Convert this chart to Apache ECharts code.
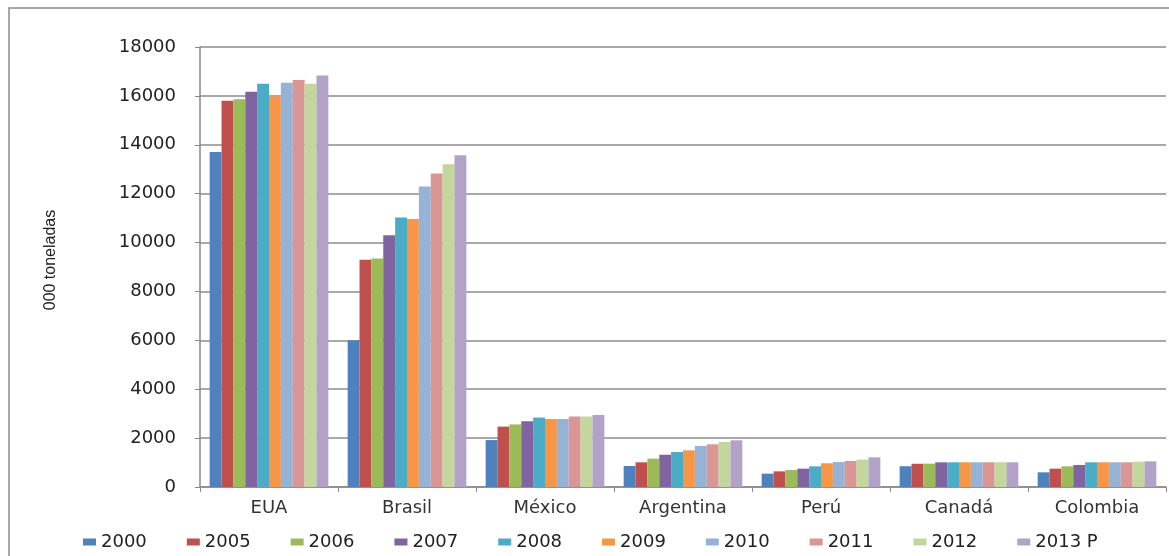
<!DOCTYPE html>
<html>
<head>
<meta charset="utf-8">
<title>Producción 000 toneladas</title>
<script src="https://cdn.jsdelivr.net/npm/echarts@6/dist/echarts.min.js"></script>
<style>
  html, body { margin: 0; padding: 0; background: #fff; }
  #chart { width: 1169px; height: 556px; }
</style>
</head>
<body>
<div id="chart"></div>
<script>
// datos (000 toneladas)
const paises = ['EUA', 'Brasil', 'México', 'Argentina', 'Perú', 'Canadá', 'Colombia']
const anos = ['2000', '2005', '2006', '2007', '2008', '2009', '2010', '2011', '2012', '2013 P']

const v2000 = [13700, 6000, 1920, 860, 545, 850, 600]
const v2005 = [15800, 9300, 2470, 1010, 640, 950, 750]
const v2006 = [15860, 9350, 2560, 1160, 695, 955, 845]
const v2007 = [16170, 10300, 2690, 1320, 750, 1010, 900]
const v2008 = [16500, 11020, 2840, 1430, 845, 1010, 1010]
const v2009 = [15970, 10960, 2780, 1500, 970, 1010, 1010]
const v2010 = [16540, 12290, 2780, 1680, 1020, 1010, 1010]
const v2011 = [16650, 12830, 2880, 1745, 1065, 1010, 1010]
const v2012 = [16500, 13200, 2880, 1840, 1120, 1010, 1035]
const v2013 = [16830, 13570, 2945, 1910, 1215, 1010, 1050]

const yTicks = { min: 0, max: 18000, interval: 2000 }

const colores = ['#4F81BD', '#C0504D', '#9BBB59', '#8064A2', '#4BACC6',
                 '#F79646', '#95B3D7', '#D99694', '#C3D69B', '#B3A2C7']

const valores = [v2000, v2005, v2006, v2007, v2008, v2009, v2010, v2011, v2012, v2013]

let chart = echarts.init(document.getElementById('chart'), null, { renderer: 'canvas' })

let series = anos.map((ano, i) => ({
  name: ano,
  type: 'bar',
  data: valores[i],
  barGap: '0%',
  barCategoryGap: '14%',
  itemStyle: { color: colores[i] }
}))

chart.setOption({
  animation: false,
  textStyle: { fontFamily: 'DejaVu Sans' },
  grid: { left: 200, right: 3, top: 47, bottom: 69, containLabel: false },
  graphic: [{
    type: 'rect',
    shape: { x: 9, y: 8, width: 1180, height: 580 },
    style: { fill: 'none', stroke: '#8a8a8a', lineWidth: 1.5 },
    silent: true
  }],
  legend: {
    left: 78,
    top: 528,
    itemWidth: 13,
    itemHeight: 7,
    itemGap: 40,
    icon: 'rect',
    textStyle: { fontSize: 18, color: '#222', fontFamily: 'DejaVu Sans' },
    data: anos
  },
  xAxis: {
    type: 'category',
    data: paises,
    axisLine: { lineStyle: { color: '#8a8a8a', width: 1.5 } },
    axisTick: { show: true, length: 5, lineStyle: { color: '#8a8a8a' } },
    axisLabel: { fontSize: 18, color: '#333', margin: 12 }
  },
  yAxis: {
    type: 'value',
    min: yTicks.min,
    max: yTicks.max,
    interval: yTicks.interval,
    name: '000 toneladas',
    nameLocation: 'middle',
    nameGap: 141,
    nameRotate: 90,
    nameTextStyle: { fontSize: 16, color: '#222', fontFamily: 'Liberation Sans', padding: [0, 0, 0, 14] },
    axisLine: { show: true, lineStyle: { color: '#8a8a8a', width: 1.5 } },
    axisTick: { show: true, length: 5, lineStyle: { color: '#8a8a8a' } },
    axisLabel: { fontSize: 18, color: '#222', margin: 24, formatter: v => String(v) },
    splitLine: { lineStyle: { color: '#8c8c8c', width: 1.5 } }
  },
  series: series
})
</script>
</body>
</html>
